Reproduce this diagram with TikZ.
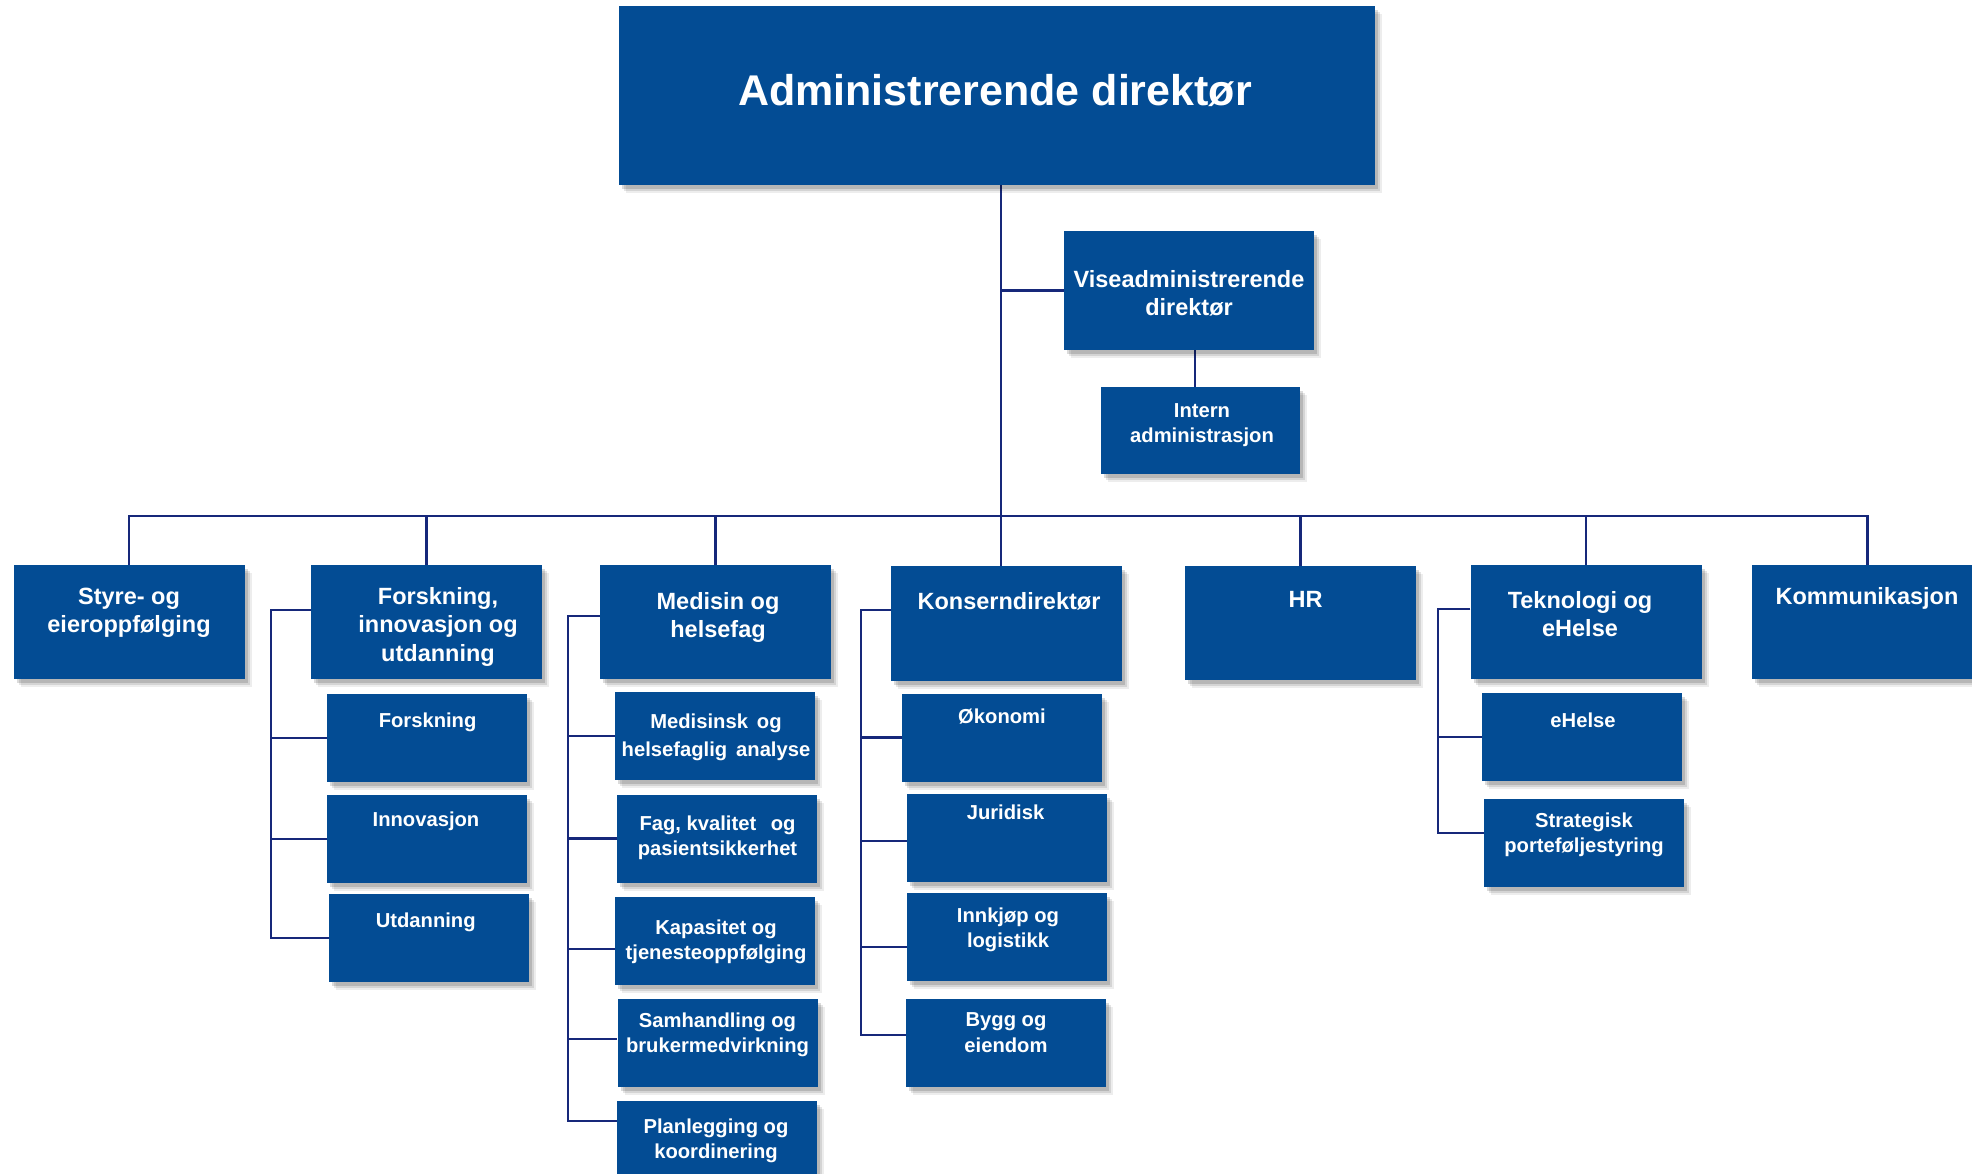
\documentclass[tikz,border=0pt]{standalone}
\usepackage{fontspec}
\setmainfont{Liberation Sans}
\usetikzlibrary{shadows}
\definecolor{boxblue}{HTML}{034C94}
\definecolor{linenavy}{HTML}{16287A}
\pgfdeclarelayer{bg}
\pgfsetlayers{bg,main}
\tikzset{
  orgbox/.style={rectangle, fill=boxblue, inner sep=0pt,
    drop shadow={shadow xshift=7pt, shadow yshift=-8pt, opacity=0.07, fill=black},
    drop shadow={shadow xshift=5pt, shadow yshift=-6pt, opacity=0.10, fill=black},
    drop shadow={shadow xshift=3pt, shadow yshift=-4pt, opacity=0.14, fill=black}},
  lvlbox/.style={orgbox, minimum width=231pt, minimum height=114pt},
  subbox/.style={orgbox, minimum width=200pt, minimum height=88pt},
  lab/.style={text=white, font=\bfseries\fontsize{23.5}{28.5}\selectfont, align=center, anchor=north, inner sep=0pt},
  sublab/.style={lab, font=\bfseries\fontsize{20.2}{25.5}\selectfont},
  conn/.style={draw=linenavy, line width=2.3pt},
}
\begin{document}
\begin{tikzpicture}[x=1pt,y=-1pt]
\begin{pgfonlayer}{bg}
\fill[white] (0,0) rectangle (1972,1174);
\end{pgfonlayer}
\useasboundingbox (0,0) rectangle (1972,1174);

% boxes
\node[orgbox, minimum width=756pt, minimum height=179pt] (top) at (997,95.5) {};
\node[orgbox, minimum width=250pt, minimum height=119pt] (vise) at (1189,290.5) {};
\node[orgbox, minimum width=199pt, minimum height=87pt] (intern) at (1200.5,430.5) {};

\node[lvlbox] (styre) at (129,622) {};
\node[lvlbox] (forsk) at (426.5,622) {};
\node[lvlbox] (medisin) at (715.5,622) {};
\node[lvlbox, minimum height=115pt] (konsern) at (1006.5,623.5) {};
\node[lvlbox] (hr) at (1300.5,623) {};
\node[lvlbox] (tek) at (1586,622) {};
\node[lvlbox] (komm) at (1867.5,622) {};

\node[subbox] (forskn) at (427,738) {};
\node[subbox] (innov) at (427,839) {};
\node[subbox] (utd) at (429,938) {};

\node[subbox] (medA) at (715,736) {};
\node[subbox] (medB) at (717,838.5) {};
\node[subbox] (medC) at (715,940.5) {};
\node[subbox] (medD) at (717.5,1042.5) {};
\node[subbox] (medE) at (717,1144.5) {};

\node[subbox] (okon) at (1002,737.5) {};
\node[subbox] (jur) at (1007,837.5) {};
\node[subbox] (innk) at (1007,936.5) {};
\node[subbox] (bygg) at (1006,1042.5) {};

\node[subbox] (ehelse) at (1582,737) {};
\node[subbox] (strat) at (1584,843) {};

% labels
\node[lab, font=\bfseries\fontsize{43}{50}\selectfont] (ttop) at (995,74.6) {Administrerende direktør};
\node[lab] (tvise) at (1189,269.8) {Viseadministrerende\\direktør};
\node[sublab] (tintern) at (1202,403.4) {Intern\\administrasjon};

\node[lab] (tstyre) at (129,587.8) {Styre- og\\eieroppfølging};
\node[lab] (tforsk) at (438,586.8) {Forskning,\\innovasjon og\\utdanning};
\node[lab] (tmedisin) at (718,591.8) {Medisin og\\helsefag};
\node[lab] (tkonsern) at (1009,591.8) {Konserndirektør};
\node[lab] (thr) at (1305.5,590.8) {HR};
\node[lab] (ttek) at (1580,590.8) {Teknologi og\\eHelse};
\node[lab] (tkomm) at (1867,586.8) {Kommunikasjon};

\node[sublab] (tforskn) at (427.6,712.4) {Forskning};
\node[sublab] (tinnov) at (426,811.4) {Innovasjon};
\node[sublab] (tutd) at (425.7,912.4) {Utdanning};

\node[sublab, font=\bfseries\fontsize{20.2}{28}\selectfont] (tmedA) at (716,713.4) {Medisinsk\, og\\helsefaglig\, analyse};
\node[sublab] (tmedB) at (717.5,815.4) {Fag, kvalitet\;\, og\\pasientsikkerhet};
\node[sublab] (tmedC) at (716,919.4) {Kapasitet og\\tjenesteoppfølging};
\node[sublab] (tmedD) at (717.5,1012.4) {Samhandling og\\brukermedvirkning};
\node[sublab] (tmedE) at (716,1118.4) {Planlegging og\\koordinering};

\node[sublab] (tokon) at (1002,708.4) {Økonomi};
\node[sublab] (tjur) at (1005.5,804.4) {Juridisk};
\node[sublab] (tinnk) at (1008,907.4) {Innkjøp og\\logistikk};
\node[sublab] (tbygg) at (1006,1012.4) {Bygg og\\eiendom};

\node[sublab] (tehelse) at (1583,712.4) {eHelse};
\node[sublab] (tstrat) at (1584,812.4) {Strategisk\\porteføljestyring};

% connectors
\begin{pgfonlayer}{bg}
\coordinate (bus) at (1001,516);
\draw[conn] (top.south -| bus) -- (konsern.north -| bus);
\draw[conn] (styre.north) -- (styre.north |- bus) -- (komm.north |- bus) -- (komm.north);
\foreach \n in {forsk,medisin,hr,tek} \draw[conn] (\n.north) -- (\n.north |- bus);
\draw[conn] (vise.west) -- (vise.west -| bus);
\draw[conn] ([xshift=6pt]vise.south) -- ([xshift=6pt]vise.south |- intern.north);

% Forskning bracket
\coordinate (brF) at (271,610);
\draw[conn] ([yshift=12pt]forsk.west) -- (brF) |- (utd.west);
\draw[conn] (brF |- forskn.west) -- (forskn.west);
\draw[conn] (brF |- innov.west) -- (innov.west);

% Medisin bracket
\coordinate (brM) at (568,616);
\draw[conn] ([yshift=6pt]medisin.west) -- (brM) |- ([yshift=23.5pt]medE.west);
\draw[conn] (brM |- medA.west) -- (medA.west);
\draw[conn] (brM |- medB.west) -- (medB.west);
\draw[conn] ([yshift=-8.5pt]medC.west -| brM) -- ([yshift=-8.5pt]medC.west);
\draw[conn] ([yshift=3.5pt]medD.west -| brM) -- ([yshift=3.5pt]medD.west);

% Konsern bracket
\coordinate (brK) at (861,610);
\draw[conn] ([yshift=13.5pt]konsern.west) -- (brK) |- ([yshift=7.5pt]bygg.west);
\draw[conn] (brK |- okon.west) -- (okon.west);
\draw[conn] ([yshift=-3.5pt]jur.west -| brK) -- ([yshift=-3.5pt]jur.west);
\draw[conn] ([yshift=-10.5pt]innk.west -| brK) -- ([yshift=-10.5pt]innk.west);

% Teknologi bracket
\coordinate (brT) at (1438,609);
\draw[conn] ([yshift=13pt]tek.west) -- (brT) |- ([yshift=10pt]strat.west);
\draw[conn] (brT |- ehelse.west) -- (ehelse.west);
\end{pgfonlayer}
\end{tikzpicture}
\end{document}
